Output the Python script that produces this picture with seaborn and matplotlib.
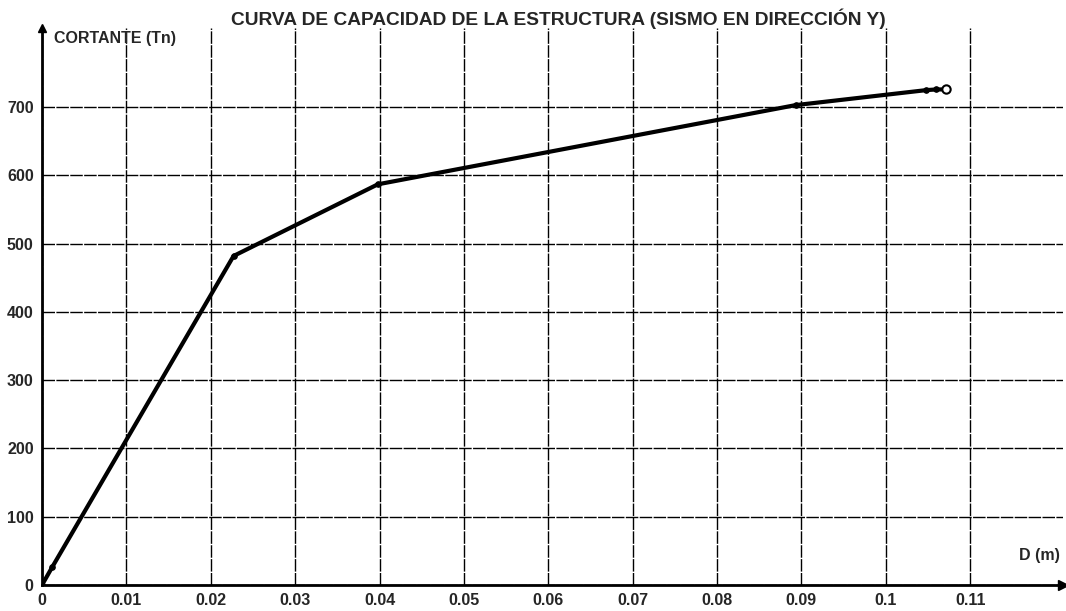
import numpy as np
import pandas as pd
import matplotlib
matplotlib.use("Agg")
import matplotlib.pyplot as plt
import seaborn as sns

# Puntos de la curva de capacidad
desplazamiento = [0.0, 0.0012, 0.0227, 0.0398, 0.0893, 0.1048, 0.1060, 0.1071]
cortante = [0, 26, 482, 587, 703, 725, 726, 726]

x_ticks = [0, 0.01, 0.02, 0.03, 0.04, 0.05, 0.06, 0.07, 0.08, 0.09, 0.1, 0.11]
x_labels = ["0", "0.01", "0.02", "0.03", "0.04", "0.05", "0.06", "0.07", "0.08", "0.09", "0.1", "0.11"]
y_ticks = [0, 100, 200, 300, 400, 500, 600, 700]

df = pd.DataFrame({"D": desplazamiento, "V": cortante})

sns.set_style("white")
plt.rcParams['font.family'] = ['Liberation Sans', 'DejaVu Sans']

fig = plt.figure(figsize=(10.66, 6.11), dpi=100)
ax = fig.add_axes([42 / 1066, 26 / 611, (1063 - 42) / 1066, (585 - 28) / 611])

sns.lineplot(data=df, x="D", y="V", ax=ax, color="black", linewidth=3,
             marker="o", markersize=4, markeredgecolor="black", zorder=5)
# punto final (circulo abierto)
ax.plot(desplazamiento[-1], cortante[-1], "o", mfc="white", mec="black",
        mew=1.5, ms=6, zorder=6)

ax.set_xlim(0, 0.121)
ax.set_ylim(0, 816)
ax.set_xticks(x_ticks)
ax.set_xticklabels(x_labels)
ax.set_yticks(y_ticks)
ax.grid(True, color="black", linewidth=1.0, linestyle=(0, (9, 1)))
ax.set_axisbelow(True)

for s in ["top", "right"]:
    ax.spines[s].set_visible(False)
for s in ["left", "bottom"]:
    ax.spines[s].set_linewidth(2)
    ax.spines[s].set_color("black")

ax.tick_params(axis="both", labelsize=11.5, length=4, width=1.2, color="black",
               pad=2)
for lbl in ax.get_xticklabels() + ax.get_yticklabels():
    lbl.set_fontweight("bold")

# flechas de los ejes
ax.plot(1, 0, ">k", ms=7, transform=ax.transAxes, clip_on=False)
ax.plot(0, 1, "^k", ms=6, transform=ax.transAxes, clip_on=False)

ax.set_xlabel("")
ax.set_ylabel("")
ax.text(0.012, 0.995, "CORTANTE (Tn)", transform=ax.transAxes, fontsize=11.5,
        fontweight="bold", va="top", ha="left")
ax.text(0.997, 0.04, "D (m)", transform=ax.transAxes, fontsize=11.5,
        fontweight="bold", va="bottom", ha="right")
fig.text(0.524, 0.97, "CURVA DE CAPACIDAD DE LA ESTRUCTURA (SISMO EN DIRECCIÓN Y)",
         fontsize=13.8, fontweight="bold", ha="center", va="center")

fig.savefig("out.png", dpi=100)
